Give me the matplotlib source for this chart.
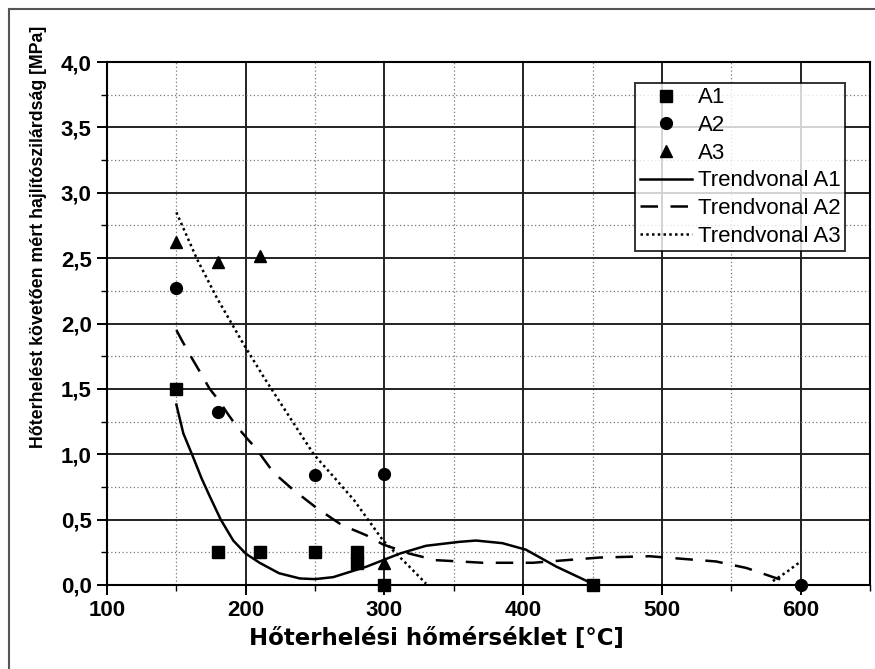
import numpy as np
import matplotlib
matplotlib.use("Agg")
import matplotlib.pyplot as plt
from matplotlib.lines import Line2D
from matplotlib.ticker import MultipleLocator, FuncFormatter

# measured points
a1_x = [150, 180, 210, 250, 280, 280, 300, 450]
a1_y = [1.50, 0.25, 0.25, 0.25, 0.25, 0.17, 0.00, 0.00]
a2_x = [150, 180, 210, 250, 300, 600]
a2_y = [2.27, 1.32, 0.25, 0.84, 0.85, 0.00]
a3_x = [150, 180, 210, 300]
a3_y = [2.62, 2.47, 2.52, 0.17]

# trend lines
t1_x = [150, 155, 162, 168, 174, 182, 191, 200, 210, 224, 239, 250, 263, 275, 287,
        299, 311, 330, 354, 366, 385, 402, 424, 446, 450]
t1_y = [1.38, 1.16, 0.98, 0.82, 0.68, 0.50, 0.34, 0.24, 0.17, 0.09, 0.05, 0.045, 0.06, 0.10, 0.14,
        0.19, 0.24, 0.30, 0.33, 0.34, 0.32, 0.27, 0.14, 0.03, 0.00]
t2_x = [150, 154, 162, 167, 174, 180, 187, 193, 201, 207, 220, 234, 251, 269, 287,
        299, 318, 337, 371, 407, 431, 455, 491, 515, 539, 561, 583, 590]
t2_y = [1.95, 1.87, 1.72, 1.63, 1.50, 1.42, 1.31, 1.22, 1.12, 1.05, 0.86, 0.73, 0.59, 0.46, 0.38,
        0.31, 0.24, 0.19, 0.17, 0.17, 0.19, 0.21, 0.22, 0.20, 0.18, 0.13, 0.05, 0.03]
t3_x = [150, 165, 179, 198, 213, 227, 249, 264, 278, 299, 318, 330, np.nan, 580, 590, 600]
t3_y = [2.85, 2.49, 2.20, 1.85, 1.59, 1.36, 1.00, 0.82, 0.65, 0.34, 0.14, 0.01, np.nan, 0.03, 0.10, 0.18]

plt.rcParams['font.family'] = ['Liberation Sans', 'DejaVu Sans']

fig = plt.figure(figsize=(8.75, 6.69), dpi=100)
ax = fig.add_axes([107 / 875, 1 - 585 / 669, 763 / 875, 523 / 669])

ax.plot(a1_x, a1_y, 's', color='black', ms=8, label='A1', clip_on=False, zorder=5)
ax.plot(a2_x, a2_y, 'o', color='black', ms=8.5, label='A2', clip_on=False, zorder=5)
ax.plot(a3_x, a3_y, '^', color='black', ms=9, label='A3', clip_on=False, zorder=5)
ax.plot(t1_x, t1_y, '-', color='black', lw=1.8, label='Trendvonal A1', zorder=4)
ax.plot(t2_x, t2_y, color='black', lw=1.8, dashes=(7, 5), label='Trendvonal A2', zorder=4)
ax.plot(t3_x, t3_y, color='black', lw=1.8, dashes=(1, 1.3), label='Trendvonal A3', zorder=4)

ax.set_xlim(100, 650)
ax.set_ylim(0, 4)
ax.xaxis.set_major_locator(MultipleLocator(100))
ax.xaxis.set_minor_locator(MultipleLocator(50))
ax.yaxis.set_major_locator(MultipleLocator(0.5))
ax.yaxis.set_minor_locator(MultipleLocator(0.25))
ax.yaxis.set_major_formatter(FuncFormatter(lambda v, p: ('%.1f' % v).replace('.', ',')))

ax.grid(which='major', color='#222222', lw=1.4, ls='-')
ax.grid(which='minor', color='#777777', lw=0.9, ls=(0, (1, 2)))
ax.set_axisbelow(True)

ax.tick_params(which='major', direction='out', length=7, width=1.4, labelsize=16)
ax.tick_params(which='minor', direction='out', length=4, width=1.0)
ax.tick_params(axis='y', pad=4)
for lab in ax.get_xticklabels() + ax.get_yticklabels():
    lab.set_fontweight('bold')
for s in ax.spines.values():
    s.set_linewidth(1.5)

ax.set_xlabel('Hőterhelési hőmérséklet [°C]', fontsize=16.5, fontweight='bold',
              family=['DejaVu Sans'])
ax.xaxis.set_label_coords(0.432, -0.08)
ax.set_ylabel('Hőterhelést követően mért hajlítószilárdság [MPa]', fontsize=12.8,
              fontweight='bold')
ax.yaxis.set_label_coords(-0.079, 0.665)

leg = ax.legend(loc='upper right', bbox_to_anchor=(0.967, 0.960), borderaxespad=0,
                fontsize=16, frameon=True, fancybox=False, handlelength=2.35,
                handletextpad=0.25, labelspacing=0.3, borderpad=0.2)
leg.get_frame().set_edgecolor('black')
leg.get_frame().set_linewidth(1.4)

# outer frame of the figure
fig.add_artist(Line2D([9 / 875, 9 / 875], [0, 1 - 9 / 669], color='#555555', lw=1.5))
fig.add_artist(Line2D([9 / 875, 1], [1 - 9 / 669, 1 - 9 / 669], color='#555555', lw=1.5))

fig.savefig('out.png', dpi=100)
